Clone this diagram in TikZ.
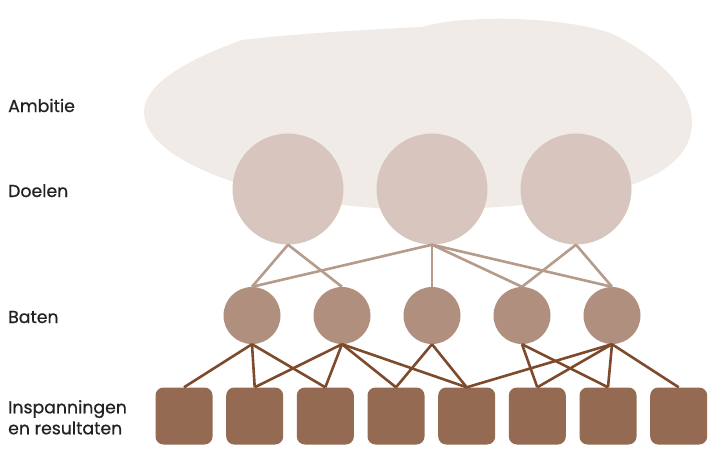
\documentclass[tikz,border=0pt]{standalone}
\usepackage{fontspec}
\setmainfont{Poppins}
\newfontfamily\lblfont{Poppins}[FakeBold=0.7]
\definecolor{cloudc}{HTML}{F0EBE7}
\definecolor{doelc}{HTML}{D8C6BE}
\definecolor{linea}{HTML}{B69A8A}
\definecolor{batenc}{HTML}{B08F7E}
\definecolor{squarec}{HTML}{946B52}
\definecolor{lineb}{HTML}{7E4A2C}
\definecolor{textc}{HTML}{222222}
\tikzset{
  doel/.style={circle, fill=doelc, minimum size=111pt, inner sep=0pt},
  baat/.style={circle, fill=batenc, minimum size=57pt, inner sep=0pt},
  inzet/.style={rectangle, rounded corners=8pt, fill=squarec, minimum size=57pt, inner sep=0pt},
  edgea/.style={draw=linea, line width=2.6pt},
  edgeb/.style={draw=lineb, line width=2.6pt},
  lbl/.style={anchor=base west, inner sep=0pt, text=textc, font=\lblfont\fontsize{17.3}{21}\selectfont, align=left}
}
\begin{document}
\begin{tikzpicture}[x=1pt,y=-1pt]
\useasboundingbox (0,0) rectangle (725,463);
% ambition cloud
\fill[cloudc] (144,112) .. controls (144,80) and (200,55) .. (242,40)
  .. controls (300,33) and (380,29) .. (422,27)
  .. controls (460,15) and (560,15) .. (613,34)
  .. controls (660,58) and (692,90) .. (692,122)
  .. controls (692,182) and (600,206) .. (430,210)
  .. controls (280,210) and (144,165) .. (144,112) -- cycle;
% goals
\node[doel] (d1) at (288,189) {};
\node[doel] (d2) at (432,189) {};
\node[doel] (d3) at (576,189) {};
% benefits
\node[baat] (b1) at (252,315.5) {};
\node[baat] (b2) at (342,315.5) {};
\node[baat] (b3) at (432,315.5) {};
\node[baat] (b4) at (522,315.5) {};
\node[baat] (b5) at (612,315.5) {};
% efforts
\node[inzet] (s1) at (184,416) {};
\node[inzet] (s2) at (254.7,416) {};
\node[inzet] (s3) at (325.3,416) {};
\node[inzet] (s4) at (396,416) {};
\node[inzet] (s5) at (466.7,416) {};
\node[inzet] (s6) at (537.3,416) {};
\node[inzet] (s7) at (608,416) {};
\node[inzet] (s8) at (678.7,416) {};
% goal -> benefit
\foreach \a/\b in {d1/b1,d1/b2,d2/b1,d2/b3,d2/b4,d2/b5,d3/b4,d3/b5}
  \draw[edgea] (\a.south) -- (\b.north);
% benefit -> effort
\foreach \a/\b in {b1/s1,b1/s2,b1/s3,b2/s2,b2/s3,b2/s4,b2/s5,b3/s4,b3/s5,b4/s6,b4/s7,b5/s5,b5/s6,b5/s7,b5/s8}
  \draw[edgeb] (\a.south) -- (\b.north);
% labels
\node[lbl] (lamb) at (8,112) {Ambitie};
\node[lbl] (ldoel) at (8,197) {Doelen};
\node[lbl] (lbaat) at (8,323) {Baten};
\node[lbl] (linz) at (8,413.3) {Inspanningen};
\node[lbl] (lres) at (8,434.3) {en resultaten};
\end{tikzpicture}
\end{document}
